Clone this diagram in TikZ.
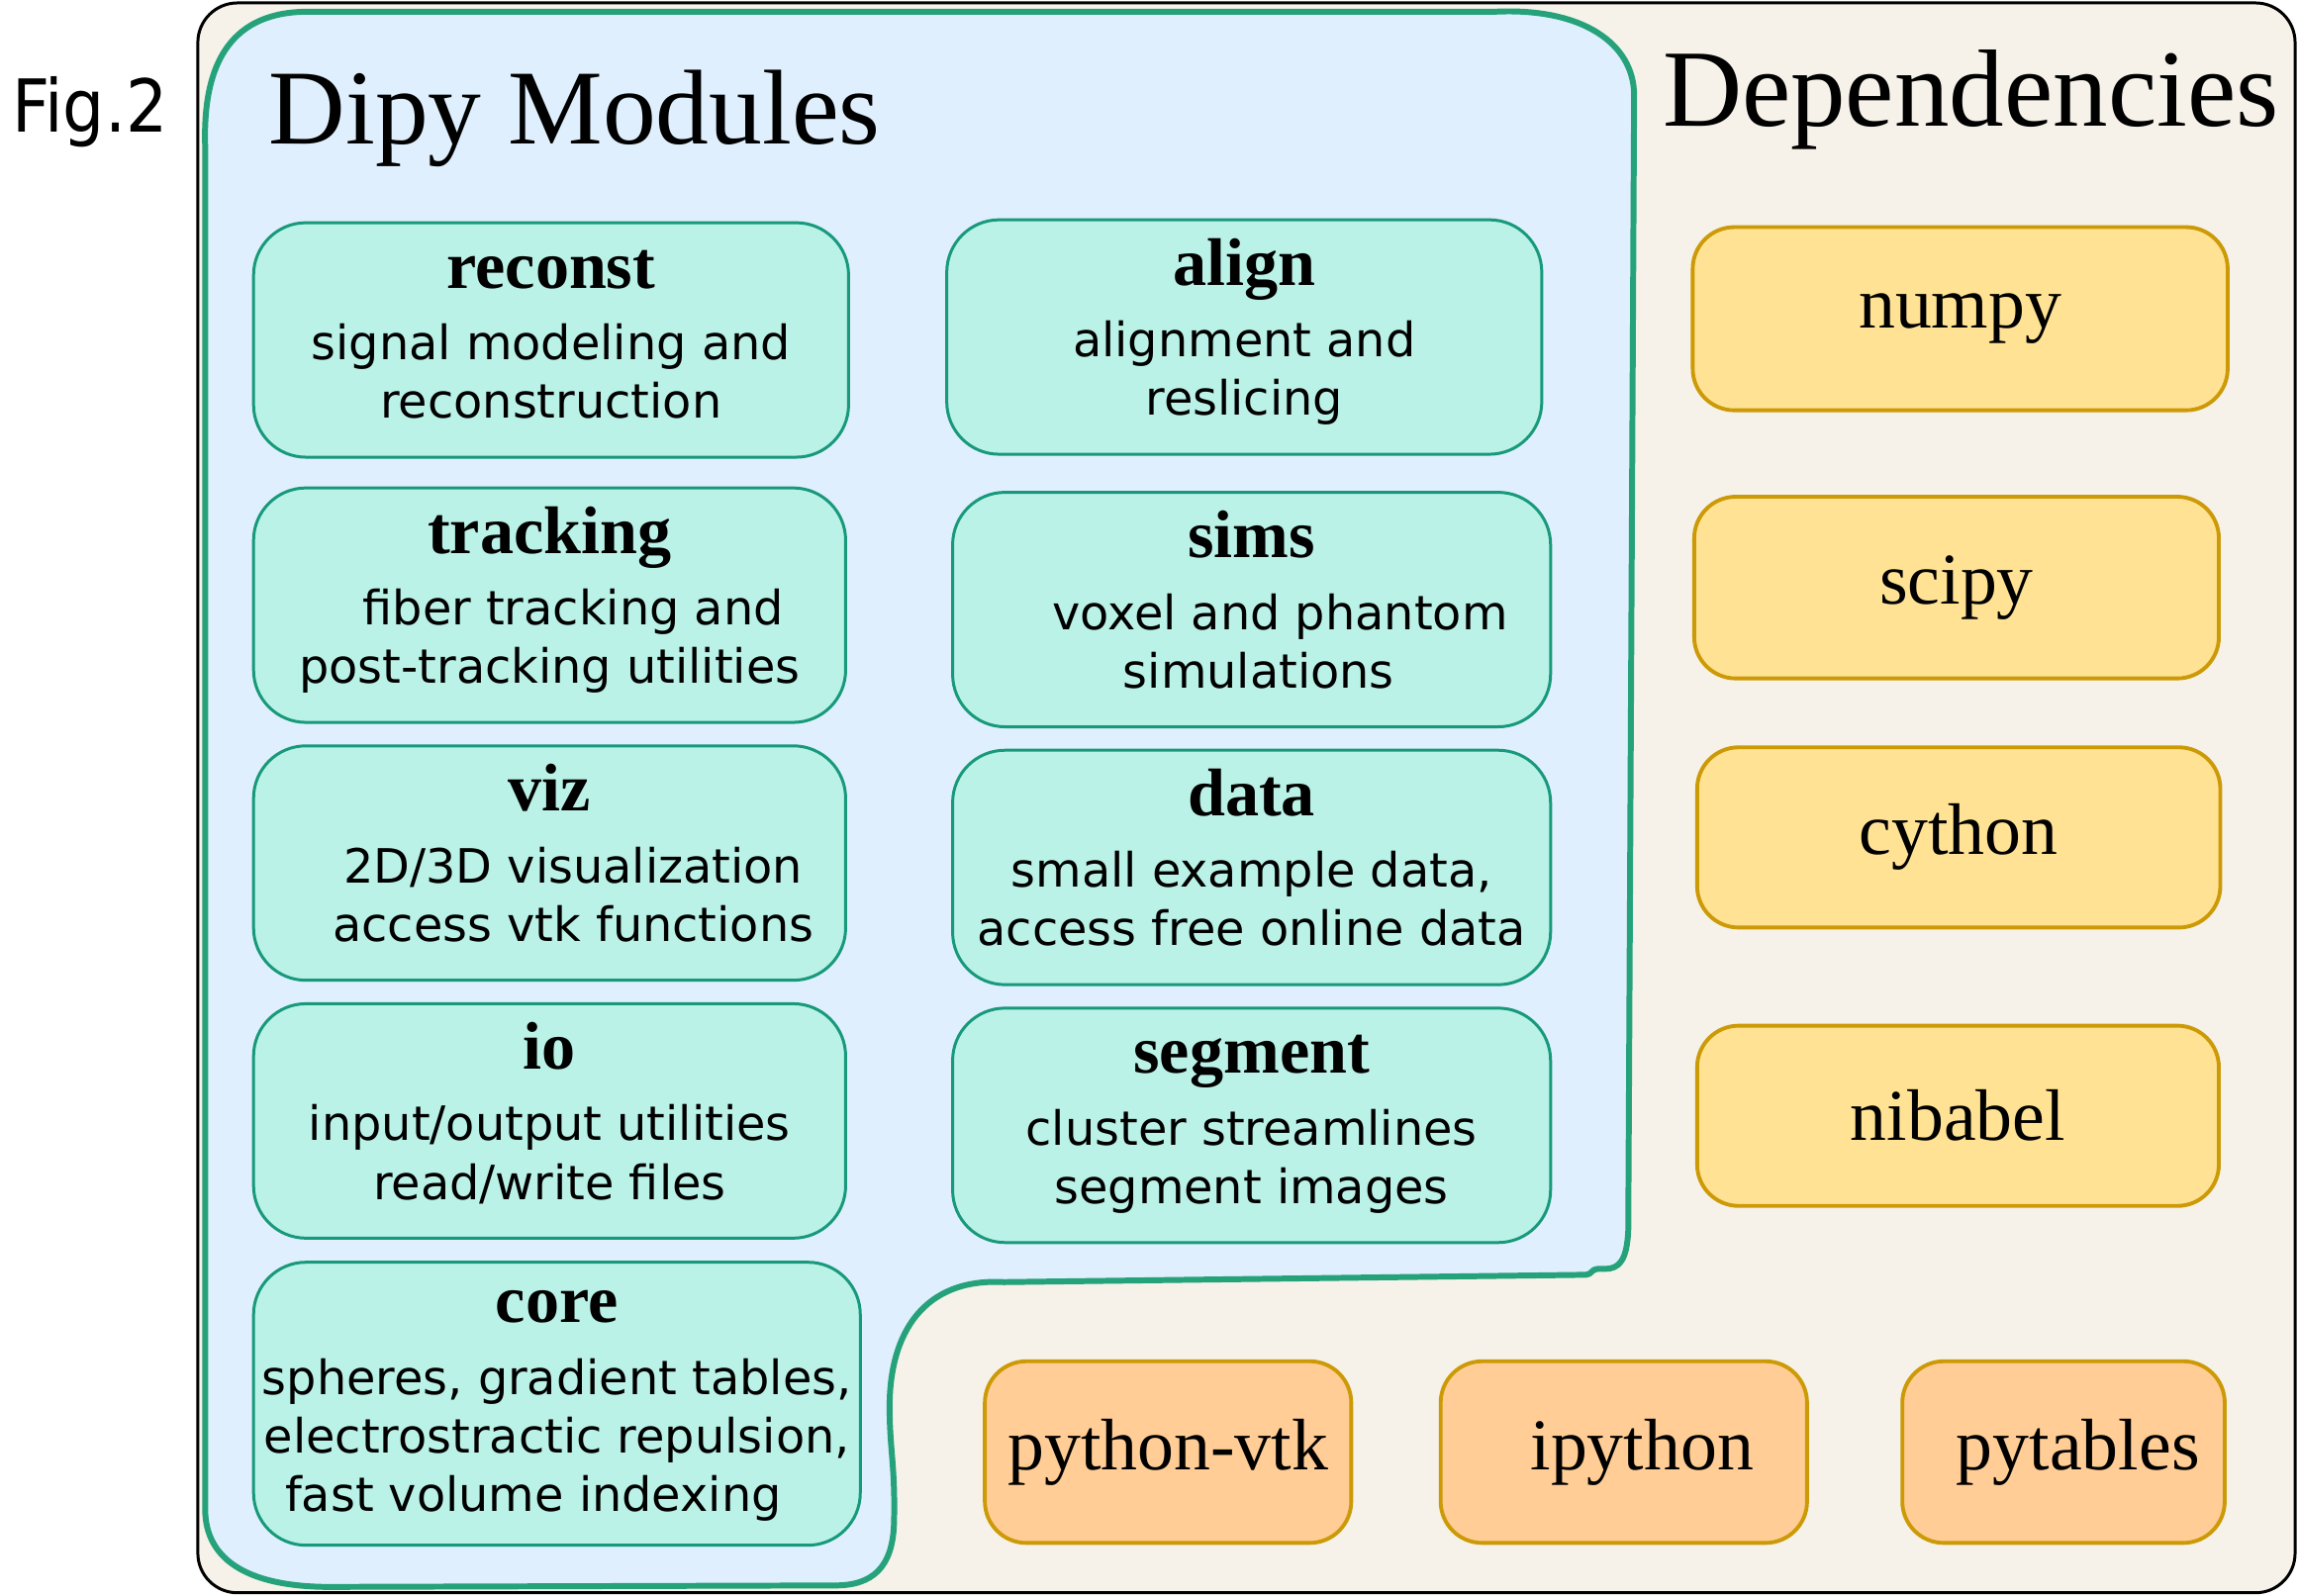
\documentclass[tikz,border=0pt]{standalone}
\usepackage{fontspec}
\setmainfont{Liberation Serif}
\setsansfont{DejaVu Sans}
\newfontfamily\figfont{DejaVu Sans Condensed}
\definecolor{framebg}{HTML}{F6F2EA}
\definecolor{dipybg}{HTML}{DFEFFD}
\definecolor{dipyline}{HTML}{26A27B}
\definecolor{modfill}{HTML}{BAF2E8}
\definecolor{modline}{HTML}{17997A}
\definecolor{depfill}{HTML}{FFE294}
\definecolor{optfill}{HTML}{FFCD95}
\definecolor{depline}{HTML}{CC9A06}
\def\pxu{0.01481cm}
\newcommand{\titlefont}{\rmfamily\bfseries\fontsize{19.4}{21}\selectfont}
\newcommand{\dmod}[2]{{\titlefont\rule{0pt}{14pt}#1}\\[3.8pt]#2\rule[-6.4pt]{0pt}{6.4pt}}
\begin{document}
\begin{tikzpicture}[x=0.01481cm,y=-0.01481cm,
		boxsize/.style 2 args={minimum width=#1*\pxu,minimum height=#2*\pxu},
		module/.style={draw=modline,fill=modfill,line width=0.85pt,rounded corners=0.53cm,align=center,inner xsep=1pt,font=\sffamily\fontsize{13.6}{16.85}\selectfont},
		dep/.style={draw=depline,fill=depfill,line width=1.1pt,rounded corners=0.42cm,font=\fontsize{21}{24}\selectfont},
		optdep/.style={dep,fill=optfill}]
		\useasboundingbox(0,0)rectangle(1568,1089);
		\filldraw[fill=framebg,draw=black,line width=0.85pt,rounded corners=0.4cm](135,2)rectangle(1566,1087);
		\filldraw[fill=dipybg,draw=dipyline,line width=1.7pt](140,100)..controls(138,40)and(160,8)..(210,8)--(1020,8)..controls(1080,5)and(1115,30)..(1115,65)--(1111,840)..controls(1110,860)and(1105,866)..(1095,866)--(1090,866)..controls(1086,866)and(1086,870)..(1082,870)--(685,875)..controls(630,872)and(607,910)..(607,960)..controls(607,990)and(611,1000)..(610,1040)..controls(609,1070)and(595,1082)..(570,1082)--(230,1083)..controls(170,1084)and(140,1065)..(140,1030)--cycle;
		\node[anchor=base west,inner sep=0pt,font=\figfont\fontsize{21}{23}\selectfont](fig)at(8,90){Fig.2};
		\node[anchor=base west,inner sep=0pt,font=\fontsize{30.6}{32}\selectfont](dipytitle)at(183,98){Dipy Modules};
		\node[anchor=base west,inner sep=0pt,font=\fontsize{31.6}{33}\selectfont](deptitle)at(1134,86){Dependencies};
		%modules
		\node[module,boxsize={406}{160}](reconst)at(376,232){\dmod{reconst}{signal modeling and\\reconstruction}};
		\node[module,boxsize={404}{160}](tracking)at(375,413){\dmod{tracking}{\hspace*{1em}fiber tracking and\\post-tracking utilities}};
		\node[module,boxsize={404}{160}](viz)at(375,589){\dmod{viz}{\hspace*{1em}2D/3D visualization\\\hspace*{1em}access vtk functions}};
		\node[module,boxsize={404}{160}](io)at(375,765){\dmod{io}{input/output utilities\\read/write files}};
		\node[module,boxsize={414}{192}](core)at(380,958){\dmod{core}{spheres, gradient tables,\\electrostractic repulsion,\\fast volume indexing\hspace*{1em}}};
		\node[module,boxsize={406}{160}](align)at(849,230){\dmod{align}{alignment and\\reslicing}};
		\node[module,boxsize={408}{160}](sims)at(854,416){\dmod{sims}{\hspace*{1.2em}voxel and phantom\\\hspace*{0.3em}simulations}};
		\node[module,boxsize={408}{160}](data)at(854,592){\dmod{data}{small example data,\\access free online data}};
		\node[module,boxsize={408}{160}](segment)at(854,768){\dmod{segment}{cluster streamlines\\segment images}};
		%dependencies
		\node[dep,boxsize={365}{125}](numpy)at(1337.5,217.5){\raisebox{-2pt}{numpy}};
		\node[dep,boxsize={358}{124}](scipy)at(1335,401){scipy};
		\node[dep,boxsize={357}{123}](cython)at(1336.5,571.5){cython};
		\node[dep,boxsize={356}{123}](nibabel)at(1336,761.5){nibabel};
		\node[optdep,boxsize={250}{124}](vtk)at(797,991){python-vtk};
		\node[optdep,boxsize={250}{124}](ipython)at(1108,991){\hspace*{0.5em}ipython};
		\node[optdep,boxsize={220}{124}](pytables)at(1408,991){\raisebox{2pt}{\hspace*{0.4em}pytables}};
	\end{tikzpicture}
\end{document}
